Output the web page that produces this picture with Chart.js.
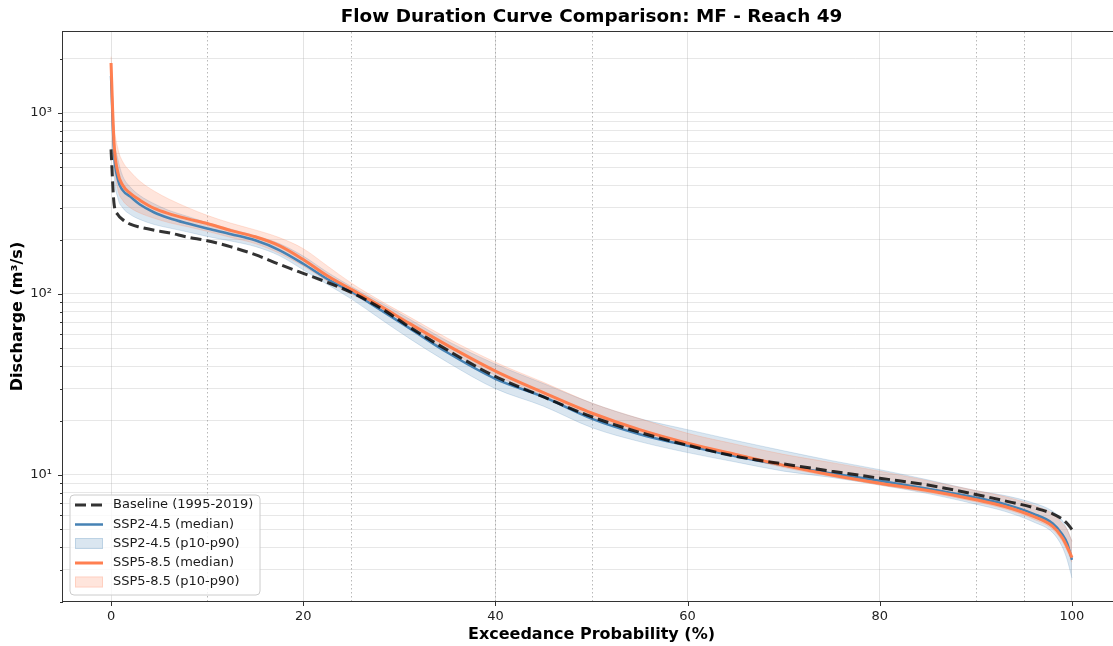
<!DOCTYPE html>
<html>
<head>
<meta charset="utf-8">
<script src="https://cdn.jsdelivr.net/npm/chart.js@4.4.0/dist/chart.umd.min.js"></script>
<style>
  html, body { margin: 0; padding: 0; background: #ffffff; overflow: hidden; }
  #wrap { width: 1113px; height: 646px; overflow: hidden; position: relative; }
  canvas { display: block; }
</style>
</head>
<body>
<div id="wrap"><canvas id="fdc" width="1121" height="646"></canvas></div>
<script>
// Exceedance probability (%) at which each curve is sampled
const exceedance = [0, 0.3, 0.7, 1.2, 2, 3, 4.5, 6, 8, 10, 12.5, 15, 17.5, 20, 22.5, 25, 28, 31, 35, 40,
  45, 50, 55, 60, 65, 70, 75, 80, 85, 90, 93, 96, 98, 99, 99.5, 100];

// Discharge (m³/s)
const baseline = [630, 320, 275, 258, 243, 234, 225, 218, 206, 197, 182, 165, 146, 130, 116, 102, 84, 66, 49, 35,
  27, 21, 17.2, 14.6, 12.7, 11.5, 10.5, 9.6, 8.8, 7.8, 7.2, 6.6, 6.1, 5.7, 5.4, 5.0];

const ssp245Median = [1600, 620, 430, 375, 345, 312, 282, 263, 245, 230, 214, 198, 175, 147, 121, 103, 82, 65, 47.5, 34,
  27, 20.5, 16.8, 14.5, 12.7, 11.3, 10.2, 9.3, 8.4, 7.5, 6.9, 6.1, 5.4, 4.7, 4.2, 3.4];
const ssp245P90 = [1700, 750, 560, 450, 390, 350, 315, 290, 268, 248, 228, 210, 190, 162, 132, 110, 90, 73, 55, 41,
  32, 25, 20.5, 17.8, 15.5, 13.6, 12.0, 10.7, 9.4, 8.2, 7.7, 7.0, 6.3, 5.6, 5.0, 4.3];
const ssp245P10 = [1450, 480, 340, 300, 275, 258, 242, 232, 220, 208, 196, 183, 163, 136, 113, 94, 73, 57, 42, 30,
  24, 18.3, 15.3, 13.3, 11.8, 10.5, 9.7, 8.8, 7.9, 6.9, 6.3, 5.5, 4.8, 4.0, 3.4, 2.7];

const ssp585Median = [1890, 700, 470, 400, 360, 330, 297, 278, 260, 245, 224, 207, 185, 155, 126, 106, 86, 69, 52, 37.5,
  28.5, 22, 17.8, 15.0, 13.0, 11.3, 10.0, 9.0, 8.2, 7.3, 6.7, 5.9, 5.2, 4.5, 4.0, 3.5];
const ssp585P90 = [2050, 900, 640, 540, 475, 420, 370, 335, 300, 272, 246, 226, 205, 178, 143, 115, 92, 75, 57, 42,
  32.5, 25, 20.5, 17, 14.8, 13.0, 11.7, 10.5, 9.3, 8.2, 7.6, 6.8, 6.1, 5.4, 5.0, 4.3];
const ssp585P10 = [1700, 560, 380, 330, 300, 280, 262, 248, 235, 222, 205, 190, 168, 143, 118, 100, 82, 65, 49, 35.5,
  27.5, 21, 17.2, 14.6, 12.7, 11.0, 9.8, 8.8, 8.0, 7.1, 6.5, 5.7, 5.0, 4.3, 3.8, 3.3];

// Axis ticks and reference percentiles
const xTickValues = [0, 20, 40, 60, 80, 100];
const yMajorTicks = [10, 100, 1000];
const yTickLabels = ['10¹', '10²', '10³'];
const percentileMarks = [10, 25, 40, 50, 90, 95];

const chartTitle = 'Flow Duration Curve Comparison: MF - Reach 49';
const xAxisTitle = 'Exceedance Probability (%)';
const yAxisTitle = 'Discharge (m³/s)';
const legendLabels = ['Baseline (1995-2019)', 'SSP2-4.5 (median)', 'SSP2-4.5 (p10-p90)', 'SSP5-8.5 (median)', 'SSP5-8.5 (p10-p90)'];

const FONT = "'DejaVu Sans', 'Liberation Sans', sans-serif";
const BLUE = '#4682b4';
const ORANGE = '#ff7f50';
const BLUE_BAND = 'rgba(70,130,180,0.2)';
const ORANGE_BAND = 'rgba(255,127,80,0.2)';
const BASE_COLOR = 'rgba(0,0,0,0.8)';
const BASE_DASH = [11, 5];

const pts = (ys) => exceedance.map((x, i) => ({ x: x, y: ys[i] }));

// all log ticks: 2..9 × 10^k plus decades
const yAllTicks = [];
for (let e = 0; e <= 3; e++) {
  for (let m = 1; m <= 9; m++) {
    const v = m * Math.pow(10, e);
    if (v >= 2 && v <= 2800) yAllTicks.push(v);
  }
}

const datasets = [
  { label: legendLabels[0], data: pts(baseline), borderColor: BASE_COLOR, borderWidth: 3, borderDash: BASE_DASH,
    pointRadius: 0, fill: false, order: 0, cubicInterpolationMode: 'monotone' },
  { label: legendLabels[3], data: pts(ssp585Median), borderColor: ORANGE, borderWidth: 3,
    pointRadius: 0, fill: false, order: 1, cubicInterpolationMode: 'monotone' },
  { label: legendLabels[1], data: pts(ssp245Median), borderColor: BLUE, borderWidth: 2.5,
    pointRadius: 0, fill: false, order: 2, cubicInterpolationMode: 'monotone' },
  { label: 'ssp585-p90', data: pts(ssp585P90), borderColor: ORANGE_BAND, borderWidth: 1, backgroundColor: ORANGE_BAND,
    pointRadius: 0, fill: 4, order: 3, cubicInterpolationMode: 'monotone' },
  { label: 'ssp585-p10', data: pts(ssp585P10), borderColor: ORANGE_BAND, borderWidth: 1,
    pointRadius: 0, fill: false, order: 4, cubicInterpolationMode: 'monotone' },
  { label: 'ssp245-p90', data: pts(ssp245P90), borderColor: BLUE_BAND, borderWidth: 1, backgroundColor: BLUE_BAND,
    pointRadius: 0, fill: 6, order: 5, cubicInterpolationMode: 'monotone' },
  { label: 'ssp245-p10', data: pts(ssp245P10), borderColor: BLUE_BAND, borderWidth: 1,
    pointRadius: 0, fill: false, order: 6, cubicInterpolationMode: 'monotone' }
];

// Dotted percentile guides, drawn under the curves
const guidesPlugin = {
  id: 'guides',
  beforeDatasetsDraw(chart) {
    const { ctx, chartArea, scales } = chart;
    ctx.save();
    ctx.strokeStyle = 'rgba(128,128,128,0.55)';
    ctx.lineWidth = 1;
    ctx.setLineDash([1.5, 2.5]);
    percentileMarks.forEach(p => {
      const x = Math.round(scales.x.getPixelForValue(p)) + 0.5;
      ctx.beginPath();
      ctx.moveTo(x, chartArea.top);
      ctx.lineTo(x, chartArea.bottom);
      ctx.stroke();
    });
    ctx.restore();
  }
};

// Frame, tick marks, titles and legend
const decorPlugin = {
  id: 'decor',
  afterDraw(chart) {
    const { ctx, chartArea, scales } = chart;
    const { left, right, top, bottom } = chartArea;
    ctx.save();
    // frame
    ctx.strokeStyle = '#333333';
    ctx.lineWidth = 1;
    ctx.setLineDash([]);
    ctx.strokeRect(left - 0.5, top - 0.5, right - left + 1, bottom - top + 1);
    // x tick marks
    ctx.beginPath();
    xTickValues.forEach(v => {
      const x = Math.round(scales.x.getPixelForValue(v)) + 0.5;
      ctx.moveTo(x, bottom);
      ctx.lineTo(x, bottom + 5);
    });
    // y tick marks (major longer than minor)
    yAllTicks.forEach(v => {
      const y = Math.round(scales.y.getPixelForValue(v)) + 0.5;
      const len = yMajorTicks.includes(v) ? 5 : 3;
      ctx.moveTo(left, y);
      ctx.lineTo(left - len, y);
    });
    ctx.stroke();

    // chart title
    ctx.fillStyle = '#000000';
    ctx.textAlign = 'center';
    ctx.textBaseline = 'middle';
    ctx.font = 'bold 18.4px ' + FONT;
    ctx.fillText(chartTitle, (left + right) / 2, 17);
    // axis titles
    ctx.font = 'bold 16px ' + FONT;
    ctx.fillText(xAxisTitle, (left + right) / 2, 635);
    ctx.save();
    ctx.translate(18, (top + bottom) / 2);
    ctx.rotate(-Math.PI / 2);
    ctx.fillText(yAxisTitle, 0, 0);
    ctx.restore();

    // legend
    const lx = 70, ly = 495, lw = 190, lh = 100, r = 4;
    ctx.beginPath();
    ctx.moveTo(lx + r, ly);
    ctx.arcTo(lx + lw, ly, lx + lw, ly + lh, r);
    ctx.arcTo(lx + lw, ly + lh, lx, ly + lh, r);
    ctx.arcTo(lx, ly + lh, lx, ly, r);
    ctx.arcTo(lx, ly, lx + lw, ly, r);
    ctx.closePath();
    ctx.fillStyle = 'rgba(255,255,255,0.8)';
    ctx.fill();
    ctx.strokeStyle = '#cccccc';
    ctx.lineWidth = 1;
    ctx.stroke();

    const rowY = [505, 524.5, 543.5, 563, 582];
    const hx0 = 75, hx1 = 103;
    const handles = [
      { type: 'line', color: BASE_COLOR, width: 3, dash: BASE_DASH },
      { type: 'line', color: BLUE, width: 2.5, dash: [] },
      { type: 'box', color: BLUE_BAND },
      { type: 'line', color: ORANGE, width: 3, dash: [] },
      { type: 'box', color: ORANGE_BAND }
    ];
    handles.forEach((h, i) => {
      const y = rowY[i];
      if (h.type === 'line') {
        ctx.beginPath();
        ctx.strokeStyle = h.color;
        ctx.lineWidth = h.width;
        ctx.setLineDash(h.dash);
        ctx.moveTo(hx0, y);
        ctx.lineTo(hx1, y);
        ctx.stroke();
        ctx.setLineDash([]);
      } else {
        ctx.fillStyle = h.color;
        ctx.fillRect(hx0, y - 5.5, hx1 - hx0, 11);
        ctx.strokeStyle = h.color;
        ctx.lineWidth = 1;
        ctx.strokeRect(hx0 + 0.5, y - 5, hx1 - hx0 - 1, 10);
      }
      ctx.fillStyle = '#1a1a1a';
      ctx.font = '13px ' + FONT;
      ctx.textAlign = 'left';
      ctx.textBaseline = 'middle';
      ctx.fillText(legendLabels[i], 113, y);
    });
    ctx.restore();
  }
};

new Chart(document.getElementById('fdc'), {
  type: 'line',
  data: { datasets: datasets },
  options: {
    responsive: false,
    animation: false,
    devicePixelRatio: 1,
    layout: { padding: { top: 32, right: 1, bottom: 0, left: 0 } },
    plugins: { legend: { display: false }, title: { display: false }, tooltip: { enabled: false } },
    elements: { line: { tension: 0 } },
    scales: {
      x: {
        type: 'linear',
        min: -5,
        max: 105,
        afterFit(scale) { scale.height = 45; },
        afterBuildTicks(scale) { scale.ticks = xTickValues.map(v => ({ value: v })); },
        grid: { color: 'rgba(176,176,176,0.35)', lineWidth: 1, drawTicks: false },
        border: { display: false },
        ticks: { padding: 8, color: '#222222', font: { family: FONT, size: 13 }, autoSkip: false, maxRotation: 0 }
      },
      y: {
        type: 'logarithmic',
        min: 2.013,
        max: 2802,
        afterFit(scale) { scale.width = 63; },
        afterBuildTicks(scale) { scale.ticks = yAllTicks.map(v => ({ value: v, major: yMajorTicks.includes(v) })); },
        grid: { color: 'rgba(176,176,176,0.3)', lineWidth: 1, drawTicks: false },
        border: { display: false },
        ticks: {
          padding: 11,
          color: '#222222',
          autoSkip: false,
          font: { family: FONT, size: 13 },
          callback(value) {
            const k = yMajorTicks.indexOf(value);
            return k >= 0 ? yTickLabels[k] : '';
          }
        }
      }
    }
  },
  plugins: [guidesPlugin, decorPlugin]
});
</script>
</body>
</html>
